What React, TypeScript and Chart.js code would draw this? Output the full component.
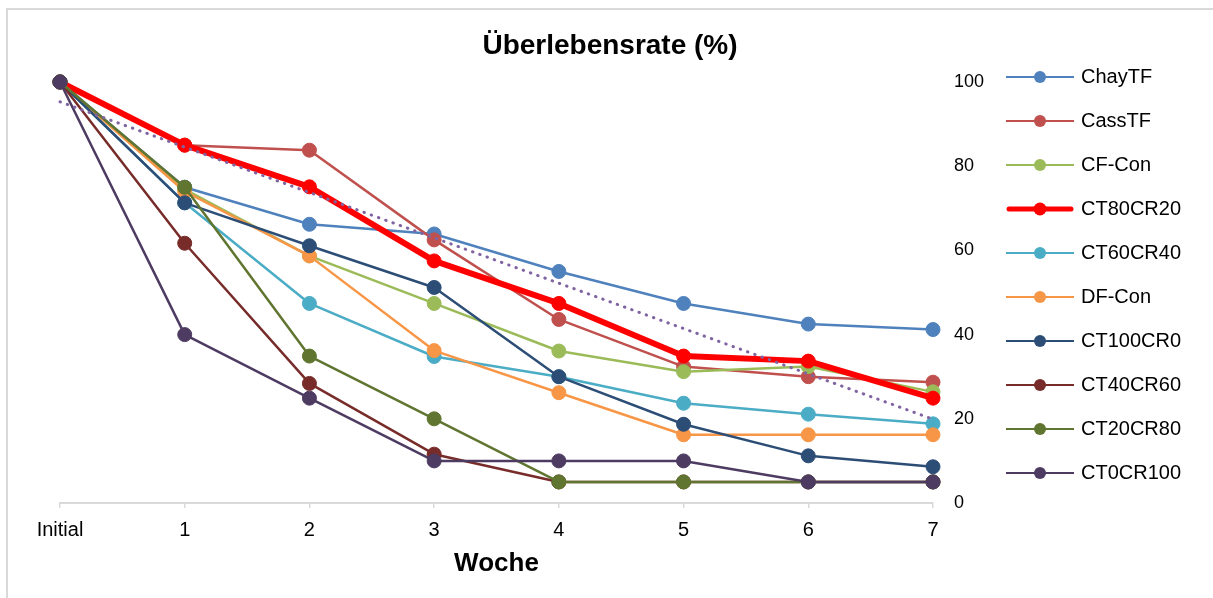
import React, { useEffect, useRef } from 'react';
import { Chart, registerables } from 'chart.js';

Chart.register(...registerables);

// ---------- data ----------
const categories = ['Initial', '1', '2', '3', '4', '5', '6', '7'];

const seriesNames = [
  'ChayTF',
  'CassTF',
  'CF-Con',
  'CT80CR20',
  'CT60CR40',
  'DF-Con',
  'CT100CR0',
  'CT40CR60',
  'CT20CR80',
  'CT0CR100',
];

const chayTF = [100, 75, 66.2, 63.9, 55, 47.4, 42.5, 41.2];
const cassTF = [100, 85, 83.8, 62.5, 43.6, 32.4, 30, 28.7];
const cfCon = [100, 74.5, 58.7, 47.4, 36.1, 31.2, 32.4, 26.4];
const ct80cr20 = [100, 85, 75.1, 57.5, 47.4, 34.9, 33.7, 24.9];
const ct60cr40 = [100, 71.3, 47.4, 34.8, 30, 23.7, 21.1, 18.8];
const dfCon = [100, 74, 58.7, 36.2, 26.2, 16.2, 16.2, 16.2];
const ct100cr0 = [100, 71.3, 61.1, 51.2, 30, 18.7, 11.2, 8.6];
const ct40cr60 = [100, 61.7, 28.4, 11.6, 5, 5, 5, 5];
const ct20cr80 = [100, 75, 34.9, 20, 5, 5, 5, 5];
const ct0cr100 = [100, 40, 24.9, 10, 10, 10, 5, 5];

// linear trendline of CT80CR20 (read endpoints, straight line between them)
const trendLabel = 'Linear (CT80CR20)';
const trendValues = [95.3, null, null, null, null, null, null, 19.9];

const yTicks = [0, 20, 40, 60, 80, 100];

const titleText = 'Überlebensrate (%)';
const xTitleText = 'Woche';

// ---------- styles ----------
const seriesValues = [chayTF, cassTF, cfCon, ct80cr20, ct60cr40, dfCon, ct100cr0, ct40cr60, ct20cr80, ct0cr100];
const seriesColors = [
  '#4F81BD',
  '#C0504D',
  '#9BBB59',
  '#FF0000',
  '#4BACC6',
  '#F79646',
  '#2C4D75',
  '#772C2A',
  '#5F7530',
  '#4D3B62',
];
const seriesWidths = [2.5, 2.5, 2.5, 6, 2.5, 2.5, 2.5, 2.5, 2.5, 2.5];
const FONT = '"Liberation Sans", Arial, Helvetica, sans-serif';

function makeLegendIcon(color: string, thick: boolean): HTMLCanvasElement {
  const c = document.createElement('canvas');
  c.width = 68;
  c.height = 16;
  const g = c.getContext('2d')!;
  g.strokeStyle = color;
  g.lineWidth = thick ? 5 : 2;
  g.lineCap = thick ? 'round' : 'butt';
  g.beginPath();
  g.moveTo(thick ? 3 : 0, 8);
  g.lineTo(thick ? 65 : 68, 8);
  g.stroke();
  g.fillStyle = color;
  g.beginPath();
  g.arc(34, 8, thick ? 6.5 : 6, 0, Math.PI * 2);
  g.fill();
  return c;
}

export default function App() {
  const ref = useRef<HTMLCanvasElement>(null);

  useEffect(() => {
    const canvas = ref.current;
    if (!canvas) return;
    const n = seriesNames.length;
    const icons = seriesColors.map((c, i) => makeLegendIcon(c, seriesWidths[i] > 4));

    const datasets: any[] = seriesNames.map((name, i) => ({
      label: name,
      data: seriesValues[i],
      borderColor: seriesColors[i],
      backgroundColor: seriesColors[i],
      borderWidth: seriesWidths[i],
      borderJoinStyle: 'round',
      pointRadius: 7,
      pointHoverRadius: 7,
      pointBorderWidth: 1,
      pointBackgroundColor: seriesColors[i],
      pointBorderColor: seriesColors[i],
      tension: 0,
      clip: false,
      order: n - i,
    }));
    datasets.push({
      label: trendLabel,
      data: trendValues,
      borderColor: '#8064A2',
      backgroundColor: '#8064A2',
      borderWidth: 3,
      borderDash: [0.5, 7.2],
      borderCapStyle: 'round',
      pointRadius: 0,
      pointHoverRadius: 0,
      spanGaps: true,
      clip: false,
      order: 0,
    });

    const chart = new Chart(canvas, {
      type: 'line',
      data: { labels: categories, datasets },
      options: {
        animation: false,
        responsive: false,
        events: [],
        layout: { padding: { left: 31, right: 24, top: 43, bottom: 8 } },
        plugins: {
          tooltip: { enabled: false },
          title: {
            display: true,
            text: titleText,
            color: '#000',
            font: { family: FONT, size: 28, weight: 'bold' },
            padding: { top: -14, bottom: 19.4 },
          },
          legend: {
            display: true,
            position: 'right',
            align: 'start',
            maxWidth: 204,
            labels: {
              usePointStyle: true,
              pointStyleWidth: 62,
              padding: 24,
              color: '#000',
              font: { family: FONT, size: 20 },
              generateLabels: () =>
                seriesNames.map((name, i) => ({
                  text: name,
                  datasetIndex: i,
                  pointStyle: icons[i] as any,
                  fillStyle: seriesColors[i],
                  strokeStyle: seriesColors[i],
                  lineWidth: 0,
                  hidden: false,
                  fontColor: '#000',
                })),
            },
          },
        },
        scales: {
          x: {
            type: 'category',
            offset: false,
            grid: {
              display: true,
              drawOnChartArea: false,
              drawTicks: true,
              tickLength: 5,
              color: '#D9D9D9',
              lineWidth: 1.5,
            },
            border: { display: true, color: '#D9D9D9', width: 2 },
            ticks: {
              color: '#000',
              font: { family: FONT, size: 20 },
              padding: 10,
              maxRotation: 0,
              autoSkip: false,
            },
            title: {
              display: true,
              text: xTitleText,
              color: '#000',
              font: { family: FONT, size: 26, weight: 'bold' },
              padding: { top: -3.6, bottom: 10.4 },
            },
          },
          y: {
            type: 'linear',
            position: 'right',
            min: yTicks[0],
            max: yTicks[yTicks.length - 1],
            grid: { display: false, drawTicks: false },
            border: { display: false },
            afterBuildTicks: (axis: any) => {
              axis.ticks = yTicks.map((v) => ({ value: v }));
            },
            afterFit: (scale: any) => {
              scale.width = 52;
            },
            ticks: {
              color: '#000',
              font: { family: FONT, size: 18 },
              padding: 21,
            },
          },
          yLeftSpacer: {
            type: 'linear',
            position: 'left',
            display: true,
            grid: { display: false, drawTicks: false },
            border: { display: false },
            ticks: { display: false },
            afterFit: (scale: any) => {
              scale.width = 29;
            },
          },
        },
      } as any,
    });

    return () => {
      chart.destroy();
    };
  }, []);

  return (
    <div
      style={{
        position: 'absolute',
        left: 0,
        top: 0,
        width: 1213,
        height: 598,
        overflow: 'hidden',
        background: '#fff',
      }}
    >
      <div
        style={{
          position: 'absolute',
          left: 6,
          top: 8,
          width: 1400,
          height: 800,
          borderLeft: '2px solid #D9D9D9',
          borderTop: '2px solid #D9D9D9',
        }}
      />
      <canvas ref={ref} width={1213} height={598} style={{ position: 'absolute', left: 0, top: 0 }} />
    </div>
  );
}
